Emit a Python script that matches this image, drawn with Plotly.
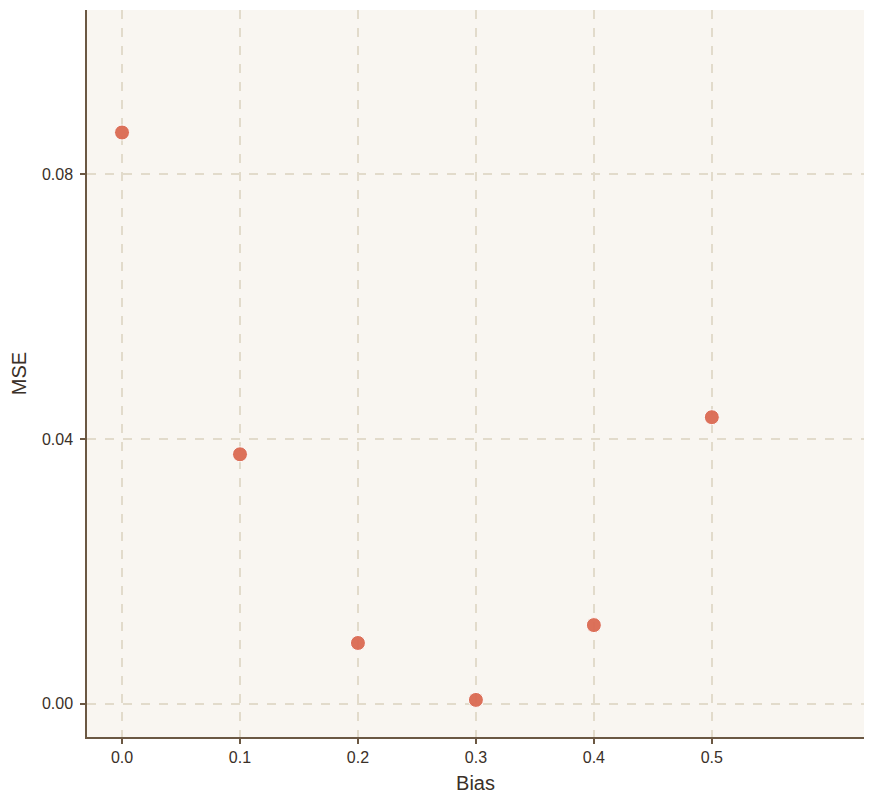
import plotly.graph_objects as go

bias = [0.0, 0.1, 0.2, 0.3, 0.4, 0.5]
mse = [0.0863, 0.0377, 0.0092, 0.0006, 0.0119, 0.0433]
x_ticks = [0.0, 0.1, 0.2, 0.3, 0.4, 0.5]
x_tick_labels = ["0.0", "0.1", "0.2", "0.3", "0.4", "0.5"]
y_ticks = [0.0, 0.04, 0.08]
y_tick_labels = ["0.00", "0.04", "0.08"]

axis_color = "#6B5843"
grid_color = "#E2DBCB"
text_color = "#3A3028"

fig = go.Figure(go.Scatter(
    x=bias, y=mse, mode="markers",
    marker=dict(size=15, color="#DB6A52", opacity=0.95,
                line=dict(color="white", width=1)),
))

fig.update_layout(
    width=867, height=798,
    margin=dict(l=79, r=11, t=2, b=69, autoexpand=False),
    paper_bgcolor="white",
    plot_bgcolor="#F9F6F1",
    font=dict(family="Liberation Sans, Arial, sans-serif", color=text_color, size=16),
    showlegend=False,
)
fig.update_xaxes(
    range=[-0.0297, 0.629], tickvals=x_ticks, ticktext=x_tick_labels,
    tickfont=dict(size=16),
    showgrid=True, gridcolor=grid_color, griddash="dash", gridwidth=1.5,
    zeroline=False, showline=True, linecolor=axis_color, linewidth=1.5,
    ticks="outside", ticklen=5, tickcolor=axis_color, tickwidth=1.5,
    title=dict(text="Bias", font=dict(size=20), standoff=11),
)
fig.update_yaxes(
    range=[-0.005, 0.1048], tickvals=y_ticks, ticktext=y_tick_labels,
    tickfont=dict(size=16), ticklabelstandoff=4,
    showgrid=True, gridcolor=grid_color, griddash="dash", gridwidth=1.5,
    zeroline=False, showline=True, linecolor=axis_color, linewidth=1.5,
    ticks="outside", ticklen=5, tickcolor=axis_color, tickwidth=1.5,
    title=dict(text="MSE", font=dict(size=20), standoff=10),
)

fig.write_html("out.html")
